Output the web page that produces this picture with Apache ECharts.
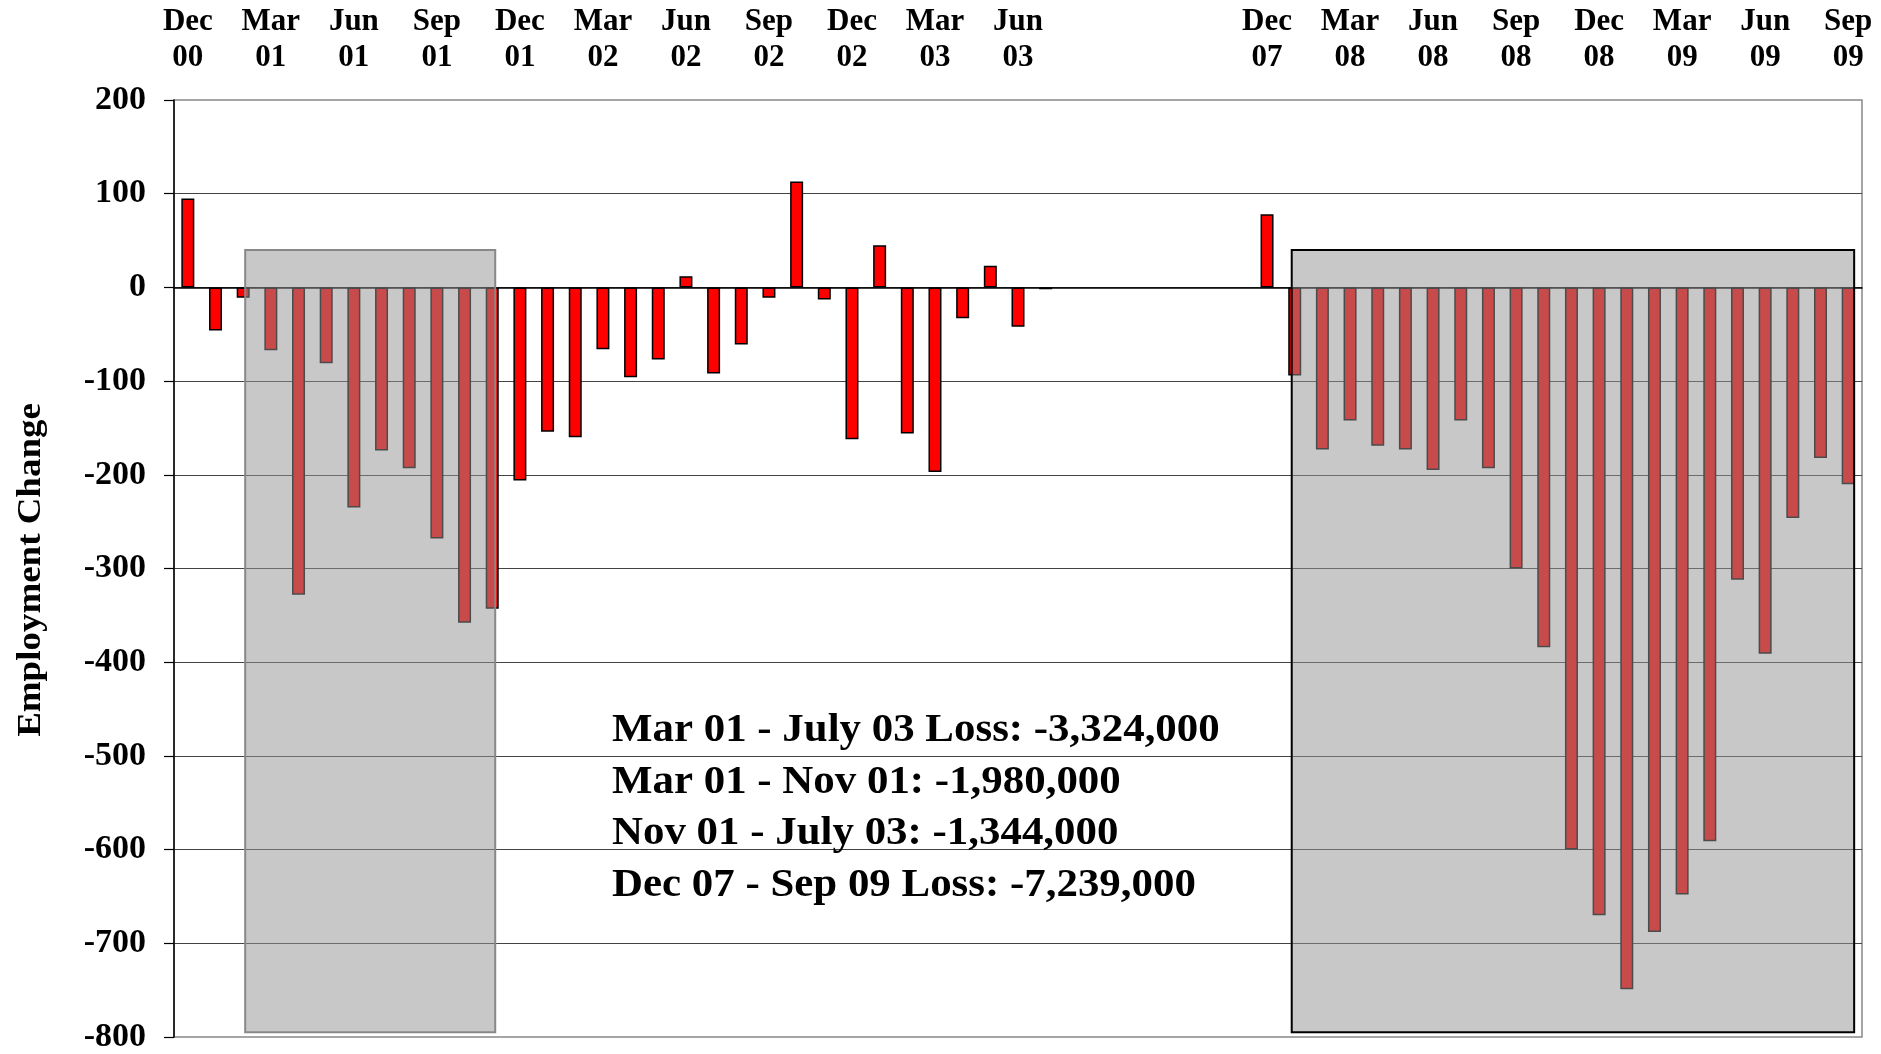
<!DOCTYPE html>
<html lang="en">
<head>
    <meta charset="UTF-8">
    <title>Employment Change</title>
    <style>
        *{
            padding:0;
            margin:0;
        }
        body{ background:#fff; }
    </style>
    <script src="https://cdn.jsdelivr.net/npm/echarts@6/dist/echarts.min.js"></script>
</head>
<body>
    <div id="main" style="width: 1881px;height: 1054px;"></div>
    <script>
        // months shown on the axis (a gap of empty slots between the two periods)
        var period1Months = ['Dec 00','Jan 01','Feb 01','Mar 01','Apr 01','May 01','Jun 01','Jul 01','Aug 01','Sep 01','Oct 01','Nov 01',
            'Dec 01','Jan 02','Feb 02','Mar 02','Apr 02','May 02','Jun 02','Jul 02','Aug 02','Sep 02','Oct 02','Nov 02',
            'Dec 02','Jan 03','Feb 03','Mar 03','Apr 03','May 03','Jun 03','Jul 03'];
        var gapMonths = ['','','','','','',''];
        var period2Months = ['Dec 07','Jan 08','Feb 08','Mar 08','Apr 08','May 08','Jun 08','Jul 08','Aug 08','Sep 08','Oct 08','Nov 08',
            'Dec 08','Jan 09','Feb 09','Mar 09','Apr 09','May 09','Jun 09','Jul 09','Aug 09','Sep 09'];

        // monthly change in employment (thousands)
        var period1Values = [95, -46, -11, -67, -328, -81, -235, -174, -193, -268, -358, -343,
            -206, -154, -160, -66, -96, -77, 12, -92, -61, -11, 113, -13,
            -162, 45, -156, -197, -33, 23, -42, -2];
        var period2Values = [78, -94, -173, -142, -169, -173, -195, -142, -193, -300, -384, -600,
            -670, -749, -688, -648, -591, -312, -391, -246, -182, -210];

        // shaded recession boxes (category index from / to, value top / bottom)
        var recessionFrom = [2, 40];
        var recessionTo = [11, 60];
        var recessionTop = [40, 40];
        var recessionBottom = [-795, -795];

        var notes = ['Mar 01 - July 03 Loss: -3,324,000', 'Mar 01 - Nov 01: -1,980,000',
            'Nov 01 - July 03: -1,344,000', 'Dec 07 - Sep 09 Loss: -7,239,000'];

        var categories = period1Months.concat(gapMonths, period2Months);
        var values = period1Values.concat(gapMonths.map(function () { return null; }), period2Values);
        var boxes = recessionFrom.map(function (f, i) {
            return [f, recessionTo[i], recessionTop[i], recessionBottom[i]];
        });

        var serif = "'Liberation Serif', 'Times New Roman', serif";
        var myChart = echarts.init(document.getElementById('main'));

        var noteGraphics = notes.map(function (t, i) {
            return {
                type: 'text',
                x: 612,
                y: 731 + i * 51.5,
                scaleX: 1.1,
                z: 100,
                style: {
                    text: t,
                    font: 'bold 39px ' + serif,
                    fill: '#000',
                    align: 'left',
                    verticalAlign: 'middle'
                }
            };
        });
        noteGraphics.push({
            type: 'text',
            x: 31,
            y: 570,
            rotation: Math.PI / 2,
            scaleX: 1.12,
            style: {
                text: 'Employment Change',
                font: 'bold 33px ' + serif,
                fill: '#000',
                align: 'center',
                verticalAlign: 'middle'
            }
        });

        var option = {
            animation: false,
            backgroundColor: '#fff',
            grid: {
                left: 174,
                right: 19,
                top: 100,
                bottom: 15,
                show: true,
                backgroundColor: '#fff',
                borderColor: '#888',
                borderWidth: 1.5
            },
            xAxis: [
                {
                    type: 'category',
                    position: 'top',
                    data: categories,
                    axisLine: { show: false, onZero: false },
                    axisTick: { show: false },
                    splitLine: { show: false },
                    axisLabel: {
                        interval: 2,
                        margin: 24,
                        color: '#000',
                        fontFamily: serif,
                        fontWeight: 'bold',
                        fontSize: 31,
                        lineHeight: 36,
                        formatter: function (v) { return v.replace(' ', '\n'); }
                    }
                },
                {
                    type: 'category',
                    position: 'bottom',
                    data: categories,
                    axisLine: { show: true, onZero: true, lineStyle: { color: '#000', width: 1.5 } },
                    axisTick: { show: false },
                    axisLabel: { show: false },
                    splitLine: { show: false }
                }
            ],
            yAxis: {
                type: 'value',
                min: -800,
                max: 200,
                interval: 100,
                axisLine: { show: true, lineStyle: { color: '#000', width: 1.5 } },
                axisTick: { show: true, length: 10, lineStyle: { color: '#000', width: 1.2 } },
                splitLine: {
                    show: true,
                    showMinLine: false,
                    showMaxLine: false,
                    lineStyle: { color: '#444', width: 1.2 }
                },
                axisLabel: {
                    margin: 28,
                    color: '#000',
                    fontFamily: serif,
                    fontWeight: 'bold',
                    fontSize: 34
                }
            },
            graphic: noteGraphics,
            series: [
                {
                    name: 'Employment Change',
                    type: 'bar',
                    xAxisIndex: 0,
                    data: values,
                    barWidth: 13,
                    z: 2,
                    itemStyle: {
                        color: '#ff0000',
                        borderColor: '#000',
                        borderWidth: 1.5
                    }
                },
                {
                    name: 'Recession',
                    type: 'custom',
                    xAxisIndex: 0,
                    z: 3,
                    data: boxes,
                    encode: { x: [0, 1], y: [2, 3] },
                    renderItem: function (params, api) {
                        var p1 = api.coord([api.value(0), api.value(2)]);
                        var p2 = api.coord([api.value(1), api.value(3)]);
                        var stroke = params.dataIndex === 0 ? '#888' : '#000';
                        var dx = params.dataIndex === 0 ? 2 : -3;
                        var dx2 = params.dataIndex === 0 ? 3 : 6;
                        return {
                            type: 'rect',
                            shape: { x: p1[0] + dx, y: p1[1], width: p2[0] - p1[0] + dx2 - dx, height: p2[1] - p1[1] },
                            style: { fill: 'rgba(147,147,147,0.51)', stroke: stroke, lineWidth: 2 }
                        };
                    }
                }
            ]
        };
        myChart.setOption(option);
    </script>
</body>
</html>
